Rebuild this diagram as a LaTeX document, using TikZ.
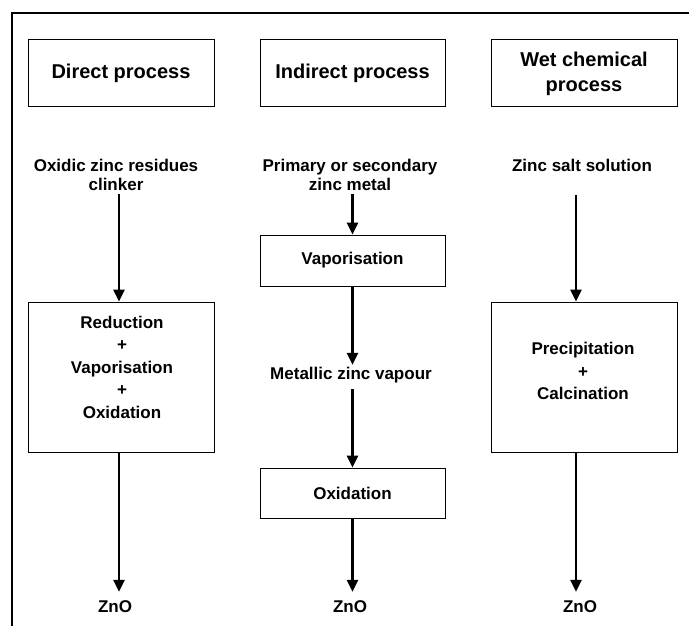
\documentclass[tikz,border=0pt]{standalone}
\usepackage{fontspec}
\setmainfont{Liberation Sans}
\usetikzlibrary{arrows.meta,calc}
\begin{document}
\begin{tikzpicture}[x=1pt,y=-1pt,
 hbox/.style={draw,line width=1pt,minimum width=186pt,minimum height=67pt,inner sep=0pt,align=center,font=\fontsize{20}{25}\selectfont\bfseries},
 pbox/.style={draw,line width=1pt,minimum width=186pt,inner sep=0pt,align=center,font=\fontsize{17}{22.5}\selectfont\bfseries},
 txt/.style={inner sep=0pt,align=center,font=\fontsize{17}{19}\selectfont\bfseries},
 arr/.style={line width=2.5pt,-{Triangle[length=12pt,width=11pt]}}]
\useasboundingbox (0,0) rectangle (689,626);
% frame
\draw[line width=2.6pt] (12,626) -- (12,13) -- (689,13);
% headings
\node[hbox] (hd) at (121,73.5) {Direct process};
\node[hbox,minimum width=185pt] (hi) at (352.5,73.5) {Indirect process};
\node[hbox] (hw) at (584,73.5) {Wet chemical\\process};
% inputs
\node[txt] (inD) at (116,174.5) {Oxidic zinc residues\\clinker};
\node[txt] (inI) at (350,174.5) {Primary or secondary\\zinc metal};
\node[txt] (inW) at (582,165) {Zinc salt solution};
% process boxes
\node[pbox,minimum height=150pt] (bD) at (121,377) {};
\node[txt,font=\fontsize{17}{22.5}\selectfont\bfseries] (tD) at (122,367) {Reduction\\+\\Vaporisation\\+\\Oxidation};
\node[pbox,minimum width=185pt,minimum height=51pt] (bV) at (352.5,260.5) {Vaporisation};
\node[txt] (mzv) at (351,375) {Metallic zinc vapour};
\node[pbox,minimum width=185pt,minimum height=50pt] (bO) at (352.5,493) {Oxidation};
\node[pbox,minimum height=150pt] (bW) at (584,377) {};
\node[txt,font=\fontsize{17}{22.5}\selectfont\bfseries] (tW) at (583,371) {Precipitation\\+\\Calcination};
% outputs
\node[txt] (oD) at (115,607) {ZnO};
\node[txt] (oI) at (350,607) {ZnO};
\node[txt] (oW) at (580,607) {ZnO};
% arrows: direct
\coordinate (aD1) at ($(bD.north)+(-2,0)$);
\draw[arr] ($(aD1 |- inD.south)+(0,4)$) -- (aD1);
\coordinate (aD2) at ($(bD.south)+(-2,0)$);
\draw[arr] (aD2) -- ($(aD2 |- oD.north)+(0,-9)$);
% arrows: indirect
\draw[arr] ($(bV.north |- inI.south)+(0,4)$) -- (bV.north);
\draw[arr] (bV.south) -- ($(bV.south |- mzv.north)+(0,-2)$);
\draw[arr] ($(bO.north |- mzv.south)+(0,6)$) -- (bO.north);
\draw[arr] (bO.south) -- ($(bO.south |- oI.north)+(0,-9)$);
% arrows: wet
\coordinate (aW1) at ($(bW.north)+(-8,0)$);
\draw[arr] ($(aW1 |- inW.south)+(0,24)$) -- (aW1);
\coordinate (aW2) at ($(bW.south)+(-8,0)$);
\draw[arr] (aW2) -- ($(aW2 |- oW.north)+(0,-9)$);
\end{tikzpicture}
\end{document}
